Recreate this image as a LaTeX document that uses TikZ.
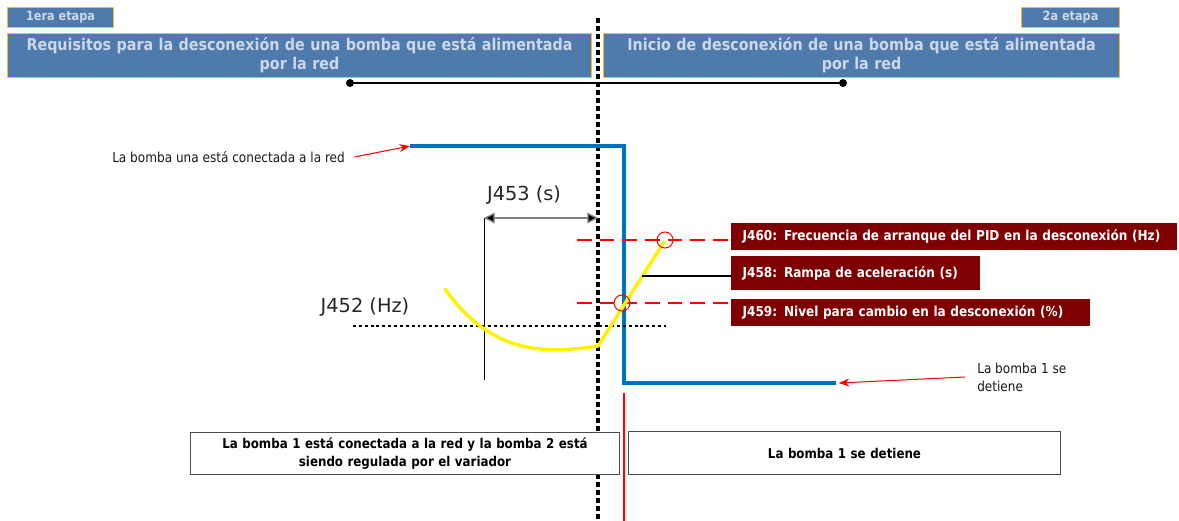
\documentclass[tikz,border=0pt]{standalone}
\usepackage{fontspec}
\setmainfont{DejaVu Sans}
\newfontfamily\tah[FakeStretch=0.88]{DejaVu Sans}
\usetikzlibrary{arrows.meta}
\definecolor{boxblue}{HTML}{4F7BAC}
\definecolor{boxgold}{HTML}{F0C030}
\definecolor{boxtext}{HTML}{CDD7EA}
\definecolor{linblue}{HTML}{0070C0}
\definecolor{darkred}{HTML}{7F0000}
\definecolor{dimgray}{HTML}{808080}
\begin{document}
\begin{tikzpicture}[x=0.75pt,y=-0.75pt,
  stage/.style={draw=boxgold, fill=boxblue, line width=0.8pt, text=boxtext,
    font=\tah\bfseries\fontsize{9.6}{11}\selectfont, inner sep=0pt, anchor=north west},
  titlebox/.style={draw=boxgold, fill=boxblue, line width=0.8pt, text=boxtext,
    font=\tah\bfseries\fontsize{12.2}{14.25}\selectfont, align=center, inner sep=0pt, anchor=north west},
  param/.style={fill=darkred, text=white, font=\tah\bfseries\fontsize{10.3}{12}\selectfont,
    anchor=north west, inner xsep=8.5pt, inner ysep=0pt, align=left},
  bottombox/.style={draw=black!70, line width=0.75pt, fill=white,
    font=\tah\bfseries\fontsize{10.1}{13}\selectfont, align=center, inner sep=0pt, anchor=north west},
  lbl/.style={font=\tah\fontsize{10.3}{13.5}\selectfont, text=black!90, inner sep=0pt},
  biglbl/.style={font=\fontsize{14.5}{16}\selectfont, text=black!85, inner sep=0pt},
  blueline/.style={draw=linblue, line width=3pt},
  redarr/.style={draw=red, line width=0.75pt, -{Stealth[length=8pt,width=6pt]}},
  stagedash/.style={draw=black, line width=2.4pt, dash pattern=on 3.6pt off 2.4pt},
  dotline/.style={draw=black, line width=1.3pt, dash pattern=on 2.2pt off 2.2pt},
  reddash/.style={draw=red, line width=1.3pt, dash pattern=on 11pt off 6pt},
  redcirc/.style={draw=red, line width=0.75pt, circle, minimum size=12pt, inner sep=0pt},
  blackdot/.style={fill=black, circle, minimum size=6pt, inner sep=0pt},
  yel/.style={draw=yellow, line width=2.6pt},
  dim/.style={draw=dimgray, line width=1pt, {Triangle[length=8pt,width=8pt,fill=black]}-{Triangle[length=8pt,width=8pt,fill=black]}},
]
\useasboundingbox (0,0) rectangle (1179,521);

% stage labels
\node[stage, minimum width=79.5pt, minimum height=15pt] (s1) at (7,7) {1era etapa};
\node[stage, minimum width=73.5pt, minimum height=15pt] (s2) at (1021,7) {2a etapa};
\node[titlebox, minimum width=438pt, minimum height=33pt, text width=438pt] (tl) at (7,33)
  {Requisitos para la desconexión de una bomba que está alimentada\\por la red};
\node[titlebox, minimum width=387pt, minimum height=33pt, text width=387pt] (tr) at (603,33)
  {Inicio de desconexión de una bomba que está alimentada\\por la red};

% horizontal line with dots
\node[blackdot] (d1) at (350,83) {};
\node[blackdot] (d2) at (843,83) {};
\draw[line width=1pt] (d1) -- (d2);

% stage dividing line
\coordinate (vt) at (598,18);
\coordinate (vb) at (598,521);
\draw[stagedash] (vt) -- (vb);

% blue pump line
\coordinate (b0) at (410,146);
\coordinate (b1) at (624,146);
\coordinate (b2) at (624,383);
\coordinate (b3) at (836,383);
\draw[blueline] (b0) -- (b1) -- (b2) -- (b3);

% labels with red arrows
\node[lbl, anchor=west] (l1) at (112,157) {La bomba una está conectada a la red};
\draw[redarr] ([xshift=7pt]l1.east) -- (b0);
\node[lbl, anchor=west, align=left] (l2) at (977,377) {La bomba 1 se\\detiene};
\draw[redarr] ([xshift=-9pt]l2.west) -- ([xshift=2pt]b3);

% J453
\coordinate (t0) at (484,218);
\coordinate (t1) at (598,218);
\coordinate (t0b) at (484,380);
\draw[line width=0.75pt] (t0) -- (t0b);
\draw[dim] (t0) -- (t1);
\node[biglbl] (j453) at (524,195) {J453 (s)};

% J452
\node[biglbl] (j452) at (365,307) {J452 (Hz)};
\coordinate (h0) at (353,326);
\coordinate (h1) at (666,326);
\draw[dotline] (h0) -- (h1);

% parameter boxes
\node[param, text width=317.5pt, minimum height=20.25pt] (p460) at (731,223)
  {J460: Frecuencia de arranque del PID en la desconexión (Hz)};
\node[param, text width=169.75pt, minimum height=25.5pt] (p458) at (731,256)
  {J458: Rampa de aceleración (s)};
\node[param, text width=252.25pt, minimum height=20.25pt] (p459) at (731,299)
  {J459: Nivel para cambio en la desconexión (\%)};

% red dashed levels
\coordinate (r1) at (577,240);
\coordinate (r2) at (577,303);
\draw[reddash] (r1) -- (p460.west |- r1);
\draw[reddash] (r2) -- (p459.west |- r2);

% yellow frequency curve
\coordinate (y0) at (445,289);
\coordinate (y1) at (598,346);
\coordinate (y2) at (664,242);
\draw[yel, line cap=round] (y0) .. controls (490,352) and (540,355) .. (y1) -- (y2);

% ramp connector
\coordinate (k0) at (642,276);
\draw[line width=1.3pt] (k0) -- (p458.west |- k0);

% red circles
\node[redcirc] (c1) at (665,240) {};
\node[redcirc] (c2) at (622,303) {};

% red vertical line
\coordinate (rv0) at (624,393);
\coordinate (rv1) at (624,521);
\draw[red, line width=1.5pt] (rv0) -- (rv1);

% bottom boxes
\node[bottombox, minimum width=321.75pt, minimum height=31.5pt, text width=321.75pt] (bl) at (190,432)
  {La bomba 1 está conectada a la red y la bomba 2 está\\siendo regulada por el variador};
\node[bottombox, minimum width=324pt, minimum height=32.25pt, text width=324pt] (br) at (628,431)
  {La bomba 1 se detiene};
\end{tikzpicture}
\end{document}
